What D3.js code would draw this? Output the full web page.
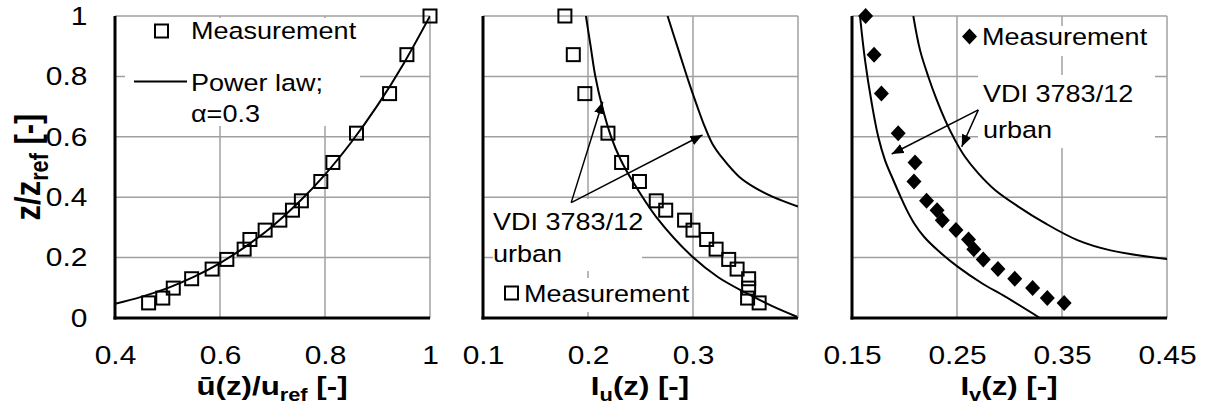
<!DOCTYPE html>
<html>
<head>
<meta charset="utf-8">
<script src="https://cdn.jsdelivr.net/npm/d3@7"></script>
<style>
  body { margin: 0; background: #fff; }
  text { font-family: "Liberation Sans", Arial, sans-serif; fill: #000; }
</style>
</head>
<body>
<div id="chart"></div>
<script>
// measurement heights z/zref (same for the three panels)
const zLevels = [1.0, 0.872, 0.743, 0.612, 0.515, 0.452, 0.388, 0.357, 0.324, 0.291, 0.260, 0.228, 0.194, 0.162, 0.130, 0.099, 0.066, 0.050];
// mean velocity, Iu, Iv measured
const uMeas = [1.0, 0.956, 0.923, 0.860, 0.815, 0.792, 0.755, 0.738, 0.714, 0.686, 0.657, 0.646, 0.613, 0.585, 0.546, 0.511, 0.491, 0.464];
const iuMeas = [0.178, 0.186, 0.197, 0.219, 0.232, 0.249, 0.265, 0.274, 0.292, 0.300, 0.313, 0.322, 0.334, 0.342, 0.353, 0.353, 0.352, 0.363];
const ivMeas = [0.163, 0.171, 0.178, 0.194, 0.210, 0.209, 0.221, 0.231, 0.236, 0.249, 0.261, 0.266, 0.275, 0.289, 0.305, 0.322, 0.336, 0.352];

// power law curve (u, z)
const powerU = [0.40, 0.45, 0.50, 0.55, 0.60, 0.65, 0.70, 0.75, 0.80, 0.85, 0.90, 0.95, 1.00];
const powerZ = [0.047, 0.070, 0.099, 0.136, 0.182, 0.238, 0.304, 0.383, 0.475, 0.582, 0.704, 0.843, 1.00];

// VDI 3783/12 urban curves for Iu (x, z)
const vdiIuLow = [[0.198, 1.0], [0.2025, 0.9], [0.207, 0.8], [0.2135, 0.7], [0.222, 0.6], [0.231, 0.525], [0.243, 0.45], [0.2647, 0.336], [0.3003, 0.2], [0.324, 0.135], [0.351, 0.082], [0.375, 0.040], [0.399, 0.004]];
const vdiIuHigh = [[0.2758, 1.0], [0.2862, 0.887], [0.2965, 0.776], [0.3042, 0.699], [0.3100, 0.644], [0.3183, 0.578], [0.3281, 0.529], [0.3439, 0.468], [0.3597, 0.430], [0.3756, 0.402], [0.400, 0.369]];
// VDI 3783/12 urban curves for Iv
const vdiIvLow = [[0.1576, 1.0], [0.1624, 0.854], [0.1688, 0.711], [0.1750, 0.600], [0.1814, 0.523], [0.1893, 0.457], [0.1962, 0.402], [0.2021, 0.358], [0.2091, 0.314], [0.2186, 0.269], [0.2314, 0.225], [0.2506, 0.170], [0.2737, 0.115], [0.2960, 0.0705], [0.329, 0.0]];
const vdiIvHigh = [[0.2084, 1.0], [0.2148, 0.887], [0.2227, 0.799], [0.2307, 0.722], [0.2386, 0.656], [0.2481, 0.589], [0.2576, 0.534], [0.2703, 0.479], [0.2862, 0.424], [0.3084, 0.369], [0.3338, 0.314], [0.3647, 0.258], [0.3963, 0.224], [0.450, 0.195]];

// tick labels
const yTicks = [0, 0.2, 0.4, 0.6, 0.8, 1];
const uTicks = [0.4, 0.6, 0.8, 1];
const iuTicks = [0.1, 0.2, 0.3, 0.4];
const iuTickLabels = [0.1, 0.2, 0.3];
const ivTicks = [0.15, 0.25, 0.35, 0.45];

// annotation arrows (start, tips) in data coords
const iuArrowFrom = [0.184, 0.382];
const iuArrowTips = [[0.214, 0.716], [0.309, 0.606]];
const ivArrowFrom = [0.2703, 0.689];
const ivArrowTips = [[0.1878, 0.543], [0.2545, 0.567]];

const W = 1210, H = 409;
const plotTop = 16, plotBottom = 318;
const SX = 1.15; // text looks horizontally stretched in the original
const grid = "#a0a0a0";

const svg = d3.select("#chart").append("svg")
  .attr("width", W).attr("height", H)
  .style("background", "#fff");

const defs = svg.append("defs");
defs.append("marker")
  .attr("id", "arrow")
  .attr("viewBox", "0 0 12 10")
  .attr("markerWidth", 12).attr("markerHeight", 10)
  .attr("markerUnits", "userSpaceOnUse")
  .attr("refX", 12).attr("refY", 5)
  .attr("orient", "auto")
  .append("path").attr("d", "M0,0L12,5L0,10Z").attr("fill", "#000");

const y = d3.scaleLinear().domain([0, 1]).range([plotBottom, plotTop]);

function panel(id, x0, x1, domain, ticks, labels) {
  const x = d3.scaleLinear().domain(domain).range([x0, x1]);
  const g = svg.append("g").attr("id", id);
  defs.append("clipPath").attr("id", "clip-" + id)
    .append("rect").attr("x", x0).attr("y", plotTop).attr("width", x1 - x0).attr("height", plotBottom - plotTop);
  // gridlines
  g.append("g").selectAll("line").data(ticks.slice(1)).join("line")
    .attr("x1", d => x(d)).attr("x2", d => x(d)).attr("y1", plotTop).attr("y2", plotBottom)
    .attr("stroke", grid).attr("stroke-width", 1.5);
  g.append("g").selectAll("line").data(yTicks.slice(1)).join("line")
    .attr("x1", x0).attr("x2", x1).attr("y1", d => y(d)).attr("y2", d => y(d))
    .attr("stroke", grid).attr("stroke-width", 1.5);
  // tick labels
  const ax = g.append("g").attr("transform", `translate(0,${plotBottom})`)
    .call(d3.axisBottom(x).tickValues(labels).tickSize(0).tickPadding(28).tickFormat(d3.format("")));
  ax.select(".domain").remove();
  ax.selectAll("text").attr("font-size", 26).attr("font-family", null).attr("transform", `scale(${SX},1)`);
  return { x, g, clip: "url(#clip-" + id + ")" };
}

function axesLines(p) {
  const [x0, x1] = p.x.range();
  p.g.append("line").attr("x1", x0).attr("x2", x0).attr("y1", plotTop).attr("y2", plotBottom + 1.5)
    .attr("stroke", "#000").attr("stroke-width", 3);
  p.g.append("line").attr("x1", x0 - 1.5).attr("x2", x1).attr("y1", plotBottom).attr("y2", plotBottom)
    .attr("stroke", "#000").attr("stroke-width", 3);
}

function whiteBox(p, x, yy, w, h) {
  p.g.append("rect").attr("x", x).attr("y", yy).attr("width", w).attr("height", h).attr("fill", "#fff");
}

function txt(parent, x, yy, parts, size, opts = {}) {
  const t = parent.append("text")
    .attr("transform", opts.rotate
      ? `translate(${x},${yy}) rotate(-90) scale(1,${SX})`
      : `translate(${x},${yy}) scale(${opts.sx || SX},1)`)
    .attr("font-size", size)
    .attr("font-weight", opts.bold ? "bold" : null)
    .attr("text-anchor", opts.anchor || "start");
  let shifted = false;
  parts.forEach(pt => {
    const s = Array.isArray(pt) ? pt : [pt];
    const ts = t.append("tspan").text(s[0]);
    if (s[1] === "sub") {
      ts.attr("font-size", size * 0.7).attr("dy", size * 0.22);
      shifted = true;
    } else if (shifted) {
      ts.attr("dy", -size * 0.22);
      shifted = false;
    }
  });
  return t;
}

const line = x => d3.line().x(d => x(d[0])).y(d => y(d[1])).curve(d3.curveCatmullRom.alpha(0.5));

function squares(p, xs) {
  p.g.append("g").selectAll("rect").data(xs.map((v, i) => [v, zLevels[i]])).join("rect")
    .attr("x", d => p.x(d[0]) - 6.5).attr("y", d => y(d[1]) - 6.5)
    .attr("width", 13).attr("height", 13)
    .attr("fill", "none").attr("stroke", "#000").attr("stroke-width", 2);
}

function curve(p, pts) {
  p.g.append("path").attr("d", line(p.x)(pts)).attr("clip-path", p.clip)
    .attr("fill", "none").attr("stroke", "#000").attr("stroke-width", 2);
}

function arrows(p, from, tips) {
  p.g.append("g").selectAll("line").data(tips).join("line")
    .attr("x1", p.x(from[0])).attr("y1", y(from[1]))
    .attr("x2", d => p.x(d[0])).attr("y2", d => y(d[1]))
    .attr("stroke", "#000").attr("stroke-width", 1.5)
    .attr("marker-end", "url(#arrow)");
}

/* panel 1: mean velocity */
const p1 = panel("p1", 115, 430, [0.4, 1], uTicks, uTicks);
whiteBox(p1, 125, 18, 235, 108);
const yax = p1.g.append("g").attr("transform", "translate(115,0)")
  .call(d3.axisLeft(y).tickValues(yTicks).tickSize(0).tickPadding(24).tickFormat(d3.format("")));
yax.select(".domain").remove();
yax.selectAll("text").attr("font-size", 26).attr("font-family", null).attr("transform", `scale(${SX},1)`);
curve(p1, powerU.map((u, i) => [u, powerZ[i]]));
squares(p1, uMeas);
p1.g.append("rect").attr("x", 155).attr("y", 24.5).attr("width", 13).attr("height", 13)
  .attr("fill", "none").attr("stroke", "#000").attr("stroke-width", 2);
txt(p1.g, 191, 38.5, ["Measurement"], 23.5);
p1.g.append("line").attr("x1", 134).attr("x2", 187).attr("y1", 81.5).attr("y2", 81.5)
  .attr("stroke", "#000").attr("stroke-width", 2);
txt(p1.g, 191, 90.5, ["Power law;"], 23.5);
txt(p1.g, 191, 121.5, ["α=0.3"], 23.5);
axesLines(p1);
txt(svg, 272, 395, ["ū(z)/u", ["ref", "sub"], " [-]"], 25, { bold: true, anchor: "middle", sx: 1.25 });
txt(svg, 40, 167, ["z/z", ["ref", "sub"], " [-]"], 31, { bold: true, anchor: "middle", rotate: true });

/* panel 2: Iu */
const p2 = panel("p2", 483, 798, [0.1, 0.4], iuTicks, iuTickLabels);
whiteBox(p2, 493, 199, 149, 72);
whiteBox(p2, 500, 278, 188, 34);
curve(p2, vdiIuLow);
curve(p2, vdiIuHigh);
squares(p2, iuMeas);
arrows(p2, iuArrowFrom, iuArrowTips);
txt(p2.g, 493, 230, ["VDI 3783/12"], 23.5);
txt(p2.g, 493, 262, ["urban"], 23.5);
p2.g.append("rect").attr("x", 505).attr("y", 286.5).attr("width", 13).attr("height", 13)
  .attr("fill", "none").attr("stroke", "#000").attr("stroke-width", 2);
txt(p2.g, 524, 302, ["Measurement"], 23.5);
axesLines(p2);
txt(svg, 640, 395, ["I", ["u", "sub"], "(z) [-]"], 25, { bold: true, anchor: "middle", sx: 1.25 });

/* panel 3: Iv */
const p3 = panel("p3", 852, 1167, [0.15, 0.45], ivTicks, ivTicks);
whiteBox(p3, 960, 26, 196, 30);
whiteBox(p3, 978, 75, 177, 73);
curve(p3, vdiIvLow);
curve(p3, vdiIvHigh);
const diamond = "M0,-8L7.5,0L0,8L-7.5,0Z";
p3.g.append("g").selectAll("path").data(ivMeas.map((v, i) => [v, zLevels[i]])).join("path")
  .attr("d", diamond).attr("transform", d => `translate(${p3.x(d[0])},${y(d[1])})`)
  .attr("fill", "#000");
arrows(p3, ivArrowFrom, ivArrowTips);
p3.g.append("path").attr("d", diamond).attr("transform", "translate(969.5,36.5)").attr("fill", "#000");
txt(p3.g, 982, 45, ["Measurement"], 23.5);
txt(p3.g, 983, 101.5, ["VDI 3783/12"], 23.5);
txt(p3.g, 983, 138, ["urban"], 23.5);
axesLines(p3);
txt(svg, 1009, 395, ["I", ["v", "sub"], "(z) [-]"], 25, { bold: true, anchor: "middle", sx: 1.25 });
</script>
</body>
</html>
